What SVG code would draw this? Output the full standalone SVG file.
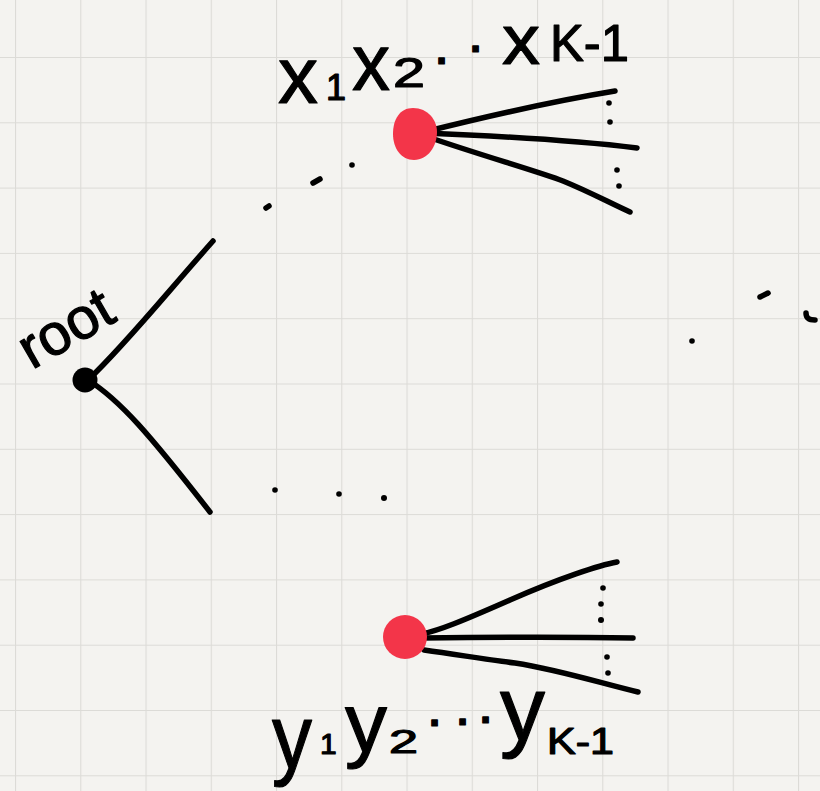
<svg xmlns="http://www.w3.org/2000/svg" width="820" height="791" viewBox="0 0 820 791">
<style>
.edge{fill:none;stroke:#000;stroke-width:5.5;stroke-linecap:round;stroke-linejoin:round}
.dot{fill:#000}
.hand{font-family:"Liberation Sans","DejaVu Sans",sans-serif;fill:#000;stroke:#000;stroke-width:1.2;stroke-linejoin:round}
.red{fill:#f33549}
</style>
<defs>
<pattern id="grid" patternUnits="userSpaceOnUse" x="15" y="57" width="65.25" height="65.3">
<path d="M0,0 V65.3 M0,0 H65.25" fill="none" stroke="#dcdbd7" stroke-width="2.2"/>
</pattern>
</defs>
<rect width="820" height="791" fill="#f4f3f0"/>
<rect width="820" height="791" fill="url(#grid)"/>

<g id="connectors">
<path class="edge" d="M88,380 C125,345 165,295 213,241"/>
<path class="edge" d="M88,380 C120,400 150,435 210,512"/>
<path class="edge" d="M424,132 C480,118 560,100 615,91"/>
<path class="edge" d="M424,133 C500,136 580,141 637,148"/>
<path class="edge" d="M428,137 C480,155 540,172 563,181 C590,192 610,203 630,212"/>
<path class="edge" d="M422,634 C440,630 460,622 510,600 C560,578 600,565 617,562"/>
<path class="edge" d="M422,638 C500,637 580,637 633,638"/>
<path class="edge" d="M424,650 C460,655 490,660 515,663 C560,670 600,683 638,692"/>
</g>

<g id="ellipses">
<path class="edge" d="M266,208 L269,206 M313,183 L320,179"/>
<circle class="dot" cx="352" cy="165" r="2.8"/>
<circle class="dot" cx="609" cy="103" r="2.8"/>
<circle class="dot" cx="610" cy="122" r="2.8"/>
<circle class="dot" cx="617" cy="170" r="2.8"/>
<circle class="dot" cx="619" cy="186" r="2.8"/>
<circle class="dot" cx="275" cy="490" r="2.8"/>
<circle class="dot" cx="339" cy="494" r="2.8"/>
<circle class="dot" cx="384" cy="498" r="3"/>
<circle class="dot" cx="603" cy="588" r="2.8"/>
<circle class="dot" cx="601" cy="604" r="2.8"/>
<circle class="dot" cx="601" cy="620" r="3"/>
<circle class="dot" cx="607" cy="657" r="2.8"/>
<circle class="dot" cx="608" cy="673" r="2.8"/>
<path class="edge" d="M760,297 L768,293"/>
<path class="edge" d="M806,313 C806,318 809,320 815,320"/>
<circle class="dot" cx="692" cy="341" r="2.8"/>
</g>

<g id="node-root">
<circle cx="85" cy="380" r="12.5" fill="#000"/>
<text class="hand" x="32" y="370" font-size="58" transform="rotate(-30 32 370)">root</text>
</g>

<g id="node-x">
<path class="red" d="M413,108 C428,108 437,120 437,132 C437,146 428,160 414,160 C401,160 393,148 393,134 C393,119 400,108 413,108 Z"/>
<text class="hand"><tspan x="278" y="103" font-size="80" textLength="40" lengthAdjust="spacingAndGlyphs">x</tspan><tspan x="326" y="100" font-size="36">1</tspan><tspan x="352" y="90" font-size="80" textLength="38" lengthAdjust="spacingAndGlyphs">x</tspan><tspan x="393" y="87" font-size="42" textLength="32" lengthAdjust="spacingAndGlyphs">2</tspan><tspan x="436" y="75" font-size="40" font-weight="bold">·</tspan><tspan x="470" y="63" font-size="40" font-weight="bold">·</tspan><tspan x="502" y="64" font-size="70" textLength="38" lengthAdjust="spacingAndGlyphs">x</tspan><tspan x="550" y="61" font-size="52" textLength="79" lengthAdjust="spacingAndGlyphs">K-1</tspan></text>
</g>

<g id="node-y">
<circle class="red" cx="405" cy="637" r="22"/>
<text class="hand"><tspan x="272" y="768" font-size="90" textLength="40" lengthAdjust="spacingAndGlyphs">y</tspan><tspan x="320" y="754" font-size="30">1</tspan><tspan x="345" y="752" font-size="84">y</tspan><tspan x="389" y="753" font-size="34" textLength="29" lengthAdjust="spacingAndGlyphs">2</tspan><tspan x="429" y="737" font-size="40" font-weight="bold">·</tspan><tspan x="457" y="736" font-size="40" font-weight="bold">·</tspan><tspan x="480" y="734" font-size="40" font-weight="bold">·</tspan><tspan x="500" y="740" font-size="90">y</tspan><tspan x="547" y="754" font-size="36" textLength="67" lengthAdjust="spacingAndGlyphs">K-1</tspan></text>
</g>
</svg>
